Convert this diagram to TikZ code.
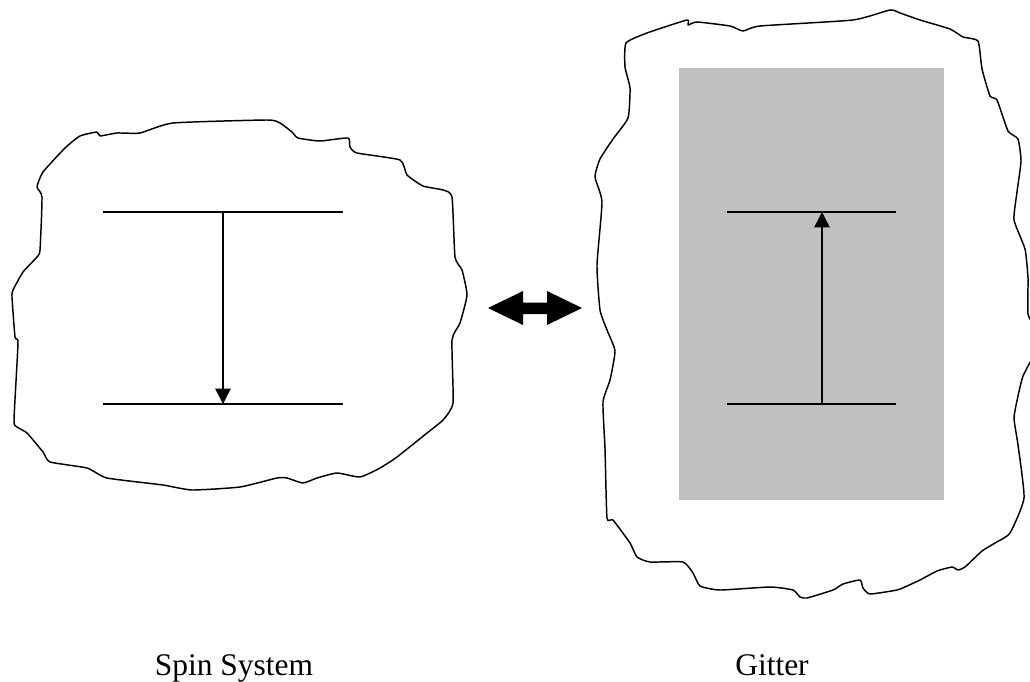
\documentclass[tikz,border=0pt]{standalone}
\usepackage{fontspec}
\setmainfont{Liberation Serif}
\usetikzlibrary{arrows.meta}
\definecolor{latgray}{RGB}{192,192,192}
\tikzset{
  blob/.style={draw=black, line width=1.1pt, line join=round},
  level/.style={draw=black, line width=1.1pt},
  trans/.style={draw=black, line width=1.1pt, -{Triangle[length=11.5pt,width=11.5pt]}},
  caption/.style={anchor=base, inner sep=0pt, font=\fontsize{23.6}{28}\selectfont},
}
\begin{document}
\begin{tikzpicture}[x=0.75pt,y=-0.75pt]
\useasboundingbox (0,0) rectangle (1030,681);
% left blob (spin system)
\draw[blob] plot[smooth cycle, tension=0.3] coordinates {
 (100,136) (117,133) (140,133) (173,123) (267,120) (280,123) (292,132) (298,138)
 (320,141) (348,138) (350,147) (357,153) (400,160) (407,175) (423,186) (443,190)
 (452,197) (455,257) (462,270) (467,295) (460,323) (452,340) (453,403) (443,420)
 (427,433) (397,457) (380,468) (360,477) (337,473) (317,478) (303,483) (287,478)
 (277,478) (240,487) (192,490) (163,485) (107,478) (87,468) (50,462) (43,452)
 (27,433) (17,427) (14,420) (18,343) (15,337) (12,297) (13,290) (23,272)
 (37,257) (40,250) (42,197) (37,187) (43,172) (65,148) (80,136) (97,132)};
% right blob (lattice)
\draw[blob] plot[smooth cycle, tension=0.3] coordinates {
 (626,43) (647,33) (687,20) (688,25) (697,22) (730,26) (743,31) (760,26)
 (853,20) (890,10) (900,13) (920,20) (950,29) (963,37) (978,41) (982,69)
 (990,96) (997,100) (1008,131) (1018,139) (1021,161) (1017,192) (1014,220)
 (1025,249) (1028,278) (1028,314) (1036,330) (1036,350) (1023,376) (1018,396)
 (1014,418) (1018,445) (1024,498) (1010,533) (995,543) (982,551) (965,567)
 (958,570) (952,567) (937,571) (920,580) (907,586) (897,590) (870,594)
 (863,588) (860,580) (843,584) (833,590) (807,598) (800,597) (793,590)
 (770,587) (720,590) (700,586) (693,573) (683,562) (650,562) (637,557)
 (630,543) (613,520) (607,518) (605,449) (603,402) (610,380) (615,351)
 (607,330) (600,310) (597,265) (602,202) (595,177) (600,159) (613,139)
 (628,118) (630,88) (625,67)};
% gray lattice area
\fill[latgray] (679,68) rectangle (944,500);
% left levels
\coordinate (s1a) at (103,212); \coordinate (s1b) at (343,212);
\coordinate (s2a) at (103,404); \coordinate (s2b) at (343,404);
\coordinate (sup) at (223,212); \coordinate (sdn) at (223,404);
\draw[level] (s1a) -- (s1b);
\draw[level] (s2a) -- (s2b);
\draw[trans] (sup) -- (sdn);
% right levels
\coordinate (g1a) at (727,212); \coordinate (g1b) at (896,212);
\coordinate (g2a) at (727,404); \coordinate (g2b) at (896,404);
\coordinate (gup) at (822,212); \coordinate (gdn) at (822,404);
\draw[level] (g1a) -- (g1b);
\draw[level] (g2a) -- (g2b);
\draw[trans] (gdn) -- (gup);
% double arrow
\fill[black] (488,308) -- (523,291) -- (523,302.5) -- (547,302.5) -- (547,291)
  -- (582,308) -- (547,325) -- (547,314) -- (523,314) -- (523,325) -- cycle;
% captions
\node[caption] (spin) at (234,675) {Spin System};
\node[caption] (gitter) at (772,675) {Gitter};
\end{tikzpicture}
\end{document}
